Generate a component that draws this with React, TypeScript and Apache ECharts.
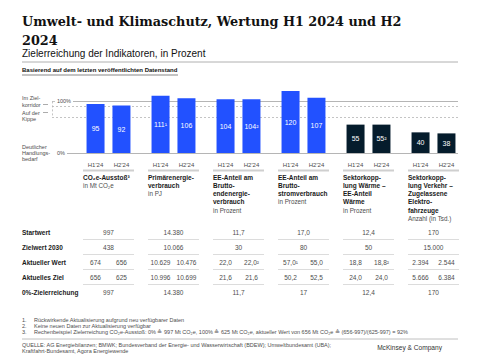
import React, { useEffect, useRef } from 'react';
import * as echarts from 'echarts';

// ---------- data ----------
const categories = ['CO2e-Ausstoß', 'Primärenergieverbrauch', 'EE Bruttoendenergie', 'EE Bruttostrom', 'Wärme', 'Verkehr'];
const h1Values = [95, 111, 104, 120, 55, 40];
const h2Values = [92, 106, 104, 107, 55, 38];
const h1Labels = ['95', '111¹', '104', '120', '55', '40'];
const h2Labels = ['92', '106', '104²', '107', '55²', '38'];
const periodLabels = ["H1'24", "H2'24"];
const targetLevel = 100;
const corridorLevel = 90;
const tippingLevel = 70;
const zeroLevel = 0;

const headerTitles = [
  ['CO₂e-Ausstoß³'],
  ['Primärenergie-', 'verbrauch'],
  ['EE-Anteil am', 'Brutto-', 'endenergie-', 'verbrauch'],
  ['EE-Anteil am', 'Brutto-', 'stromverbrauch'],
  ['Sektorkopp-', 'lung Wärme –', 'EE-Anteil', 'Wärme'],
  ['Sektorkopp-', 'lung Verkehr –', 'Zugelassene', 'Elektro-', 'fahrzeuge'],
];
const headerUnits = ['in Mt CO₂e', 'in PJ', 'in Prozent', 'in Prozent', 'in Prozent', 'Anzahl (in Tsd.)'];

const rowLabels = ['Startwert', 'Zielwert 2030', 'Aktueller Wert', 'Aktuelles Ziel', '0%-Zielerreichung'];
const startwert = ['997', '14.380', '11,7', '17,0', '12,4', '170'];
const zielwert2030 = ['438', '10.066', '30', '80', '50', '15.000'];
const aktuellH1 = ['674', '10.629', '22,0', '57,0¹', '18,8', '2.394'];
const aktuellH2 = ['656', '10.476', '22,0²', '55,0', '18,8²', '2.544'];
const zielH1 = ['656', '10.996', '21,6', '50,2', '24,0', '5.666'];
const zielH2 = ['625', '10.699', '21,6', '52,5', '24,0', '6.384'];
const nullProzent = ['997', '14.380', '11,7', '17', '12,4', '170'];

const footnotes = [
  'Rückwirkende Aktualisierung aufgrund neu verfügbarer Daten',
  'Keine neuen Daten zur Aktualisierung verfügbar',
  'Rechenbeispiel Zielerreichung CO₂e-Ausstoß: 0% ≙ 997 Mt CO₂e, 100% ≙ 625 Mt CO₂e, aktueller Wert von 656 Mt CO₂e ≙ (656-997)/(625-997) = 92%',
];
const sourceLines = [
  'QUELLE: AG Energiebilanzen; BMWK; Bundesverband der Energie- und Wasserwirtschaft (BDEW); Umweltbundesamt (UBA);',
  'Kraftfahrt-Bundesamt, Agora Energiewende',
];

// ---------- style ----------
const BLUE = '#2251ff';
const NAVY = '#051c2c';
const barColors = [BLUE, BLUE, BLUE, BLUE, NAVY, NAVY];
const SANS = '"Liberation Sans", Arial, sans-serif';
const INK = '#1a1a1a';
const GREY = '#4d4d4d';

const txt = (x: number, y: number, text: string, font: string, fill: string, align = 'left') => ({
  type: 'text',
  x,
  y,
  silent: true,
  style: { text, font, fill, align, textAlign: align, verticalAlign: 'middle', textVerticalAlign: 'middle' },
});
const hline = (x1: number, x2: number, y: number, stroke: string, lineWidth = 1) => ({
  type: 'line',
  silent: true,
  shape: { x1, y1: y, x2, y2: y },
  style: { stroke, lineWidth },
});

const ROW_Y = [232, 247, 262, 277, 292];

export default function App() {
  const ref = useRef<HTMLDivElement>(null);
  useEffect(() => {
    if (!ref.current) return;
    const chart = echarts.init(ref.current, undefined, { renderer: 'svg' });

    const lineBase = { symbol: ['none', 'none'] };
    const markData: any[] = [
      [
        {
          xAxis: 0, yAxis: targetLevel, x: 73,
          lineStyle: { color: '#b5b5b5', width: 1, type: 'solid' },
          label: { show: true, position: 'start', distance: 2, formatter: '100%', color: GREY, fontSize: 5.5, fontFamily: SANS },
        },
        { xAxis: 0, yAxis: targetLevel, x: 458 },
      ],
      [
        {
          xAxis: 0, yAxis: zeroLevel, x: 67,
          lineStyle: { color: '#b5b5b5', width: 1, type: 'solid' },
          label: { show: true, position: 'start', distance: 2, formatter: '0%', color: GREY, fontSize: 5.5, fontFamily: SANS },
        },
        { xAxis: 0, yAxis: zeroLevel, x: 458 },
      ],
      [
        { xAxis: 0, yAxis: corridorLevel, x: 52, lineStyle: { color: '#b5b5b5', width: 0.8, type: [2, 2] } },
        { xAxis: 0, yAxis: corridorLevel, x: 458 },
      ],
      [
        { xAxis: 0, yAxis: tippingLevel, x: 52, lineStyle: { color: '#b5b5b5', width: 0.8, type: [2, 2] } },
        { xAxis: 0, yAxis: tippingLevel, x: 458 },
      ],
      [
        { xAxis: 0, yAxis: targetLevel, x: 52, lineStyle: { color: '#b5b5b5', width: 0.8, type: [2, 2] } },
        { xAxis: 0, yAxis: tippingLevel, x: 52 },
      ],
      [
        { xAxis: 0, yAxis: targetLevel, x: 52, lineStyle: { color: '#b5b5b5', width: 0.8, type: 'solid' } },
        { xAxis: 0, yAxis: targetLevel, x: 55 },
      ],
    ];

    const titleFont = 'bold 12.8px "DejaVu Serif", serif';
    const noteFont = `5.5px ${SANS}`;
    const staticGraphics: any[] = [
      txt(22, 21, 'Umwelt- und Klimaschutz, Wertung H1 2024 und H2', titleFont, '#111'),
      txt(22, 40, '2024', titleFont, '#111'),
      txt(22, 53, 'Zielerreichung der Indikatoren, in Prozent', `10px ${SANS}`, '#111'),
      hline(22, 458, 62, '#b0b0b0', 1),
      txt(22, 70, 'Basierend auf dem letzten veröffentlichten Datenstand', `bold 6px ${SANS}`, '#111'),
      hline(22, 178, 75, '#555', 0.7),
      // chart side labels
      txt(22, 98, 'Im Ziel-', `5.5px ${SANS}`, GREY),
      txt(22, 104.5, 'korridor', `5.5px ${SANS}`, GREY),
      hline(43, 48, 104.5, '#888', 0.7),
      txt(22, 113, 'Auf der', `5.5px ${SANS}`, GREY),
      txt(22, 119, 'Kippe', `5.5px ${SANS}`, GREY),
      hline(43, 48, 112.5, '#888', 0.7),
      txt(22, 147, 'Deutlicher', `5.5px ${SANS}`, GREY),
      txt(22, 153, 'Handlungs-', `5.5px ${SANS}`, GREY),
      txt(22, 159, 'bedarf', `5.5px ${SANS}`, GREY),
      // row labels
      ...rowLabels.map((l, k) => txt(22, ROW_Y[k], l, `bold 6.5px ${SANS}`, INK)),
      // footnotes
      ...footnotes.map((f, k) => txt(22, 320 + k * 6, `${k + 1}.`, noteFont, GREY)),
      ...footnotes.map((f, k) => txt(34, 320 + k * 6, f, noteFont, GREY)),
      hline(22, 458, 339, '#b0b0b0', 0.8),
      ...sourceLines.map((s, k) => txt(22, 345 + k * 6, s, noteFont, GREY)),
      txt(442, 347, 'McKinsey & Company', `6.6px ${SANS}`, '#333', 'right'),
    ];

    const valFont = `6.5px ${SANS}`;
    const option: any = {
      animation: false,
      textStyle: { fontFamily: SANS },
      grid: { left: 76, right: 14, top: 80.76, bottom: 207 },
      xAxis: {
        type: 'category',
        data: categories,
        axisLine: { show: false },
        axisTick: { show: false },
        axisLabel: { show: false },
      },
      yAxis: { type: 'value', min: 0, max: 140, show: false },
      graphic: { elements: staticGraphics },
      series: [
        {
          type: 'bar',
          name: periodLabels[0],
          data: h1Values.map((v, i) => ({ value: v, itemStyle: { color: barColors[i] } })),
          barWidth: 18,
          barGap: '44%',
          z: 2,
          label: {
            show: true, position: 'inside', color: '#fff', fontSize: 7, fontFamily: SANS,
            formatter: (p: any) => h1Labels[p.dataIndex],
          },
          markLine: { silent: true, z: 1, ...lineBase, label: { show: false }, data: markData },
        },
        {
          type: 'bar',
          name: periodLabels[1],
          data: h2Values.map((v, i) => ({ value: v, itemStyle: { color: barColors[i] } })),
          barWidth: 18,
          barGap: '44%',
          z: 2,
          label: {
            show: true, position: 'inside', color: '#fff', fontSize: 7, fontFamily: SANS,
            formatter: (p: any) => h2Labels[p.dataIndex],
          },
        },
        {
          type: 'custom',
          silent: true,
          z: 3,
          data: categories.map((_, i) => [i, 0]),
          renderItem: (params: any, api: any) => {
            const i = api.value(0) as number;
            const cx = api.coord([i, 0])[0];
            const left = cx - 25.5;
            const children: any[] = [];
            children.push(txt(cx - 13, 165, periodLabels[0], `6px ${SANS}`, GREY, 'center'));
            children.push(txt(cx + 13, 165, periodLabels[1], `6px ${SANS}`, GREY, 'center'));
            children.push({ type: 'rect', shape: { x: left, y: 169.5, width: 51, height: 2 }, style: { fill: '#cfcfcf' } });
            const lines = headerTitles[i];
            lines.forEach((l, k) => children.push(txt(left, 177 + k * 8.3, l, `bold 6.5px ${SANS}`, INK)));
            children.push(txt(left, 177 + lines.length * 8.3, headerUnits[i], `6.3px ${SANS}`, GREY));
            // rows
            children.push(txt(cx, ROW_Y[0], startwert[i], valFont, GREY, 'center'));
            children.push(txt(cx, ROW_Y[1], zielwert2030[i], valFont, GREY, 'center'));
            children.push(txt(cx - 13, ROW_Y[2], aktuellH1[i], valFont, GREY, 'center'));
            children.push(txt(cx + 13, ROW_Y[2], aktuellH2[i], valFont, GREY, 'center'));
            children.push(txt(cx - 13, ROW_Y[3], zielH1[i], valFont, GREY, 'center'));
            children.push(txt(cx + 13, ROW_Y[3], zielH2[i], valFont, GREY, 'center'));
            children.push(txt(cx, ROW_Y[4], nullProzent[i], valFont, GREY, 'center'));
            for (let k = 0; k < 4; k++) {
              const y = (ROW_Y[k] + ROW_Y[k + 1]) / 2;
              children.push({ type: 'rect', shape: { x: left, y: y - 0.6, width: 51, height: 1.2 }, style: { fill: '#dcdcdc' } });
            }
            return { type: 'group', children };
          },
        },
      ],
    };
    chart.setOption(option);
    return () => chart.dispose();
  }, []);
  return (
    <div
      ref={ref}
      style={{ position: 'fixed', left: 0, top: 0, width: 480, height: 360, background: '#fff' }}
    />
  );
}
